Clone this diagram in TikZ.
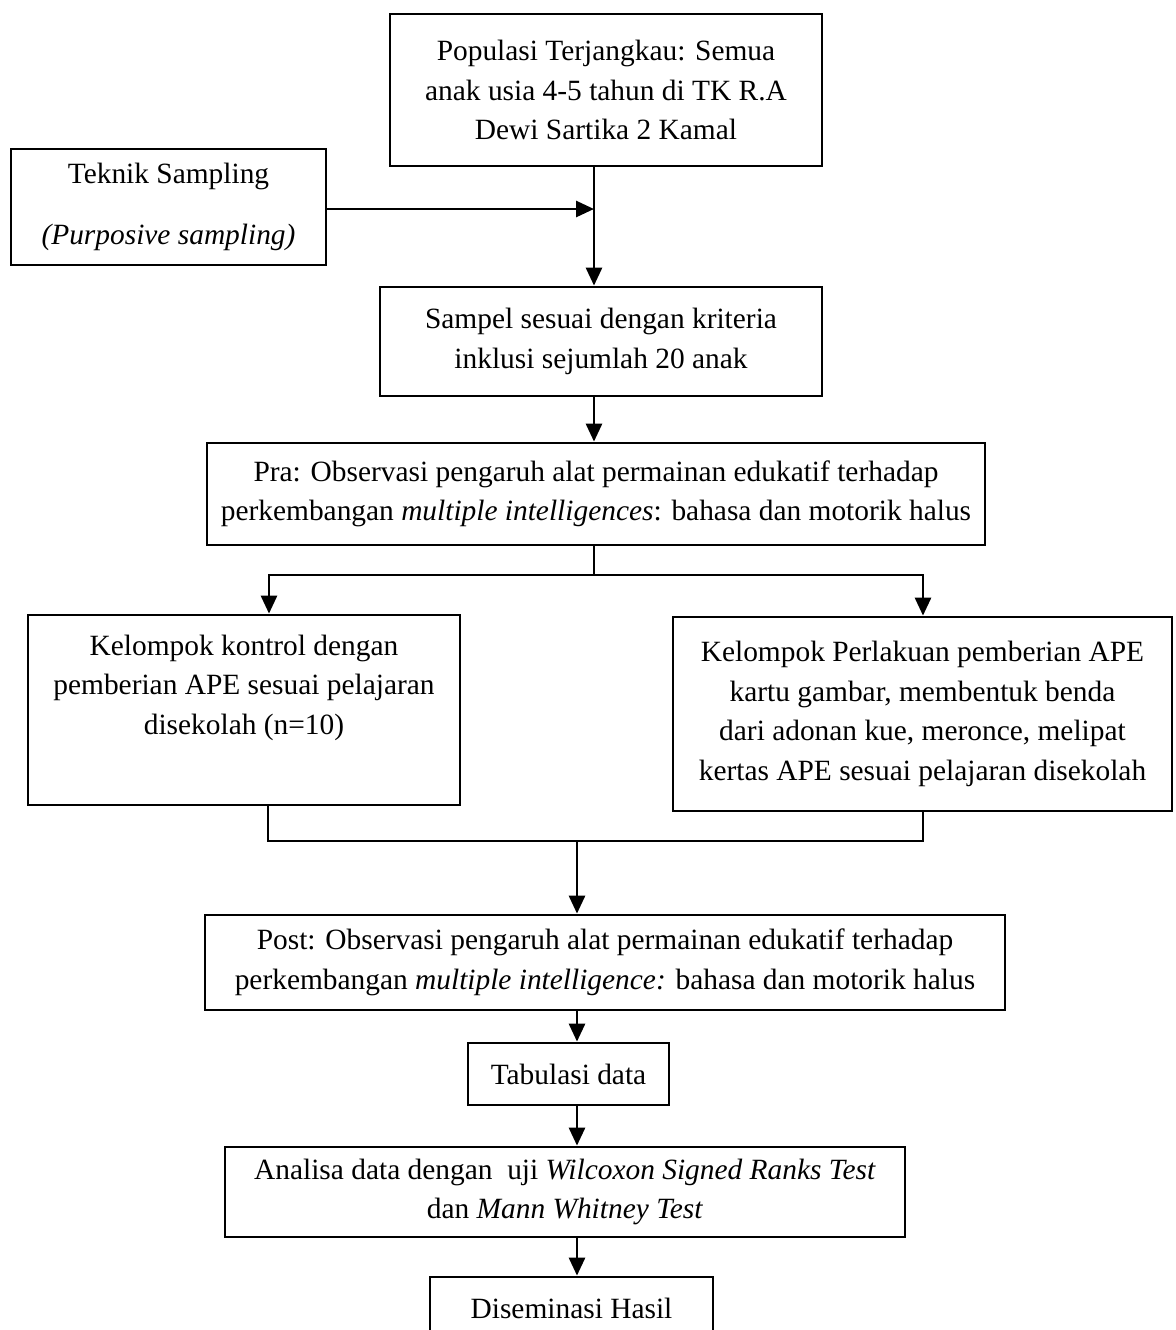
\documentclass[tikz,border=0pt]{standalone}
\usepackage{fontspec}
\setmainfont{Liberation Serif}
\usetikzlibrary{arrows.meta}

\begin{document}
\begin{tikzpicture}[x=0.5pt, y=-0.5pt,
    box/.style={draw, line width=1.4pt, align=center, inner sep=0pt,
        font=\fontsize{14.7pt}{19.7pt}\selectfont},
    link/.style={line width=1.4pt},
    arr/.style={link, -{Triangle[length=9pt, width=8pt]}}]
    \useasboundingbox (0,0) rectangle (1175,1330);
    \clip (0,0) rectangle (1175,1330);
    \node[box, minimum width=216pt, minimum height=76pt] (populasi) at (606,90)
        {Populasi Terjangkau: Semua\\ anak usia 4-5 tahun di TK R.A\\ Dewi Sartika 2 Kamal};
    \node[box, minimum width=157.5pt, minimum height=58pt] (teknik) at (168.5,207)
        {Teknik Sampling\\[11pt] \textit{(Purposive sampling)}};
    \node[box, minimum width=221pt, minimum height=54.5pt] (sampel) at (601,341.5)
        {Sampel sesuai dengan kriteria\\ inklusi sejumlah 20 anak};
    \node[box, minimum width=389pt, minimum height=51pt] (pra) at (596,494)
        {Pra: Observasi pengaruh alat permainan edukatif terhadap\\
         perkembangan \textit{multiple intelligences}: bahasa dan motorik halus};
    \node[box, minimum width=216pt, minimum height=95pt] (kontrol) at (244,710)
        {Kelompok kontrol dengan\\ pemberian APE sesuai pelajaran\\ disekolah (n=10)\\ \strut};
    \node[box, minimum width=249.5pt, minimum height=97pt] (perlakuan) at (922.5,714)
        {Kelompok Perlakuan pemberian APE\\ kartu gambar, membentuk benda\\
         dari adonan kue, meronce, melipat\\ kertas APE sesuai pelajaran disekolah};
    \node[box, minimum width=400pt, minimum height=47.5pt] (post) at (605,962.5)
        {Post: Observasi pengaruh alat permainan edukatif terhadap\\
         perkembangan \textit{multiple intelligence:} bahasa dan motorik halus};
    \node[box, minimum width=100.5pt, minimum height=31pt] (tabulasi) at (568.5,1074)
        {Tabulasi data};
    \node[box, minimum width=340pt, minimum height=45pt] (analisa) at (565,1192)
        {Analisa data dengan\ \ uji \textit{Wilcoxon Signed Ranks Test}\\
         dan \textit{Mann Whitney Test}};
    \node[box, minimum width=141.5pt, minimum height=31pt] (diseminasi) at (571.5,1308)
        {Diseminasi Hasil};

    \coordinate (trunk) at (594,209);
    \coordinate (split) at (594,575);
    \coordinate (splitL) at (269,575);
    \coordinate (splitR) at (923,575);
    \coordinate (mergeL) at (268,841);
    \coordinate (mergeR) at (923,841);
    \coordinate (merge) at (577,841);

    \draw[arr] (populasi.south -| trunk) -- (sampel.north -| trunk);
    \draw[arr] (teknik.east |- trunk) -- (trunk);
    \draw[arr] (sampel.south -| trunk) -- (pra.north -| trunk);
    \draw[link] (pra.south -| split) -- (split);
    \draw[arr] (split) -- (splitL) -- (kontrol.north -| splitL);
    \draw[arr] (split) -- (splitR) -- (perlakuan.north -| splitR);
    \draw[link] (kontrol.south -| mergeL) -- (mergeL) -- (mergeR) -- (perlakuan.south -| mergeR);
    \draw[arr] (merge) -- (post.north -| merge);
    \draw[arr] (post.south -| merge) -- (tabulasi.north -| merge);
    \draw[arr] (tabulasi.south -| merge) -- (analisa.north -| merge);
    \draw[arr] (analisa.south -| merge) -- (diseminasi.north -| merge);
\end{tikzpicture}
\end{document}
